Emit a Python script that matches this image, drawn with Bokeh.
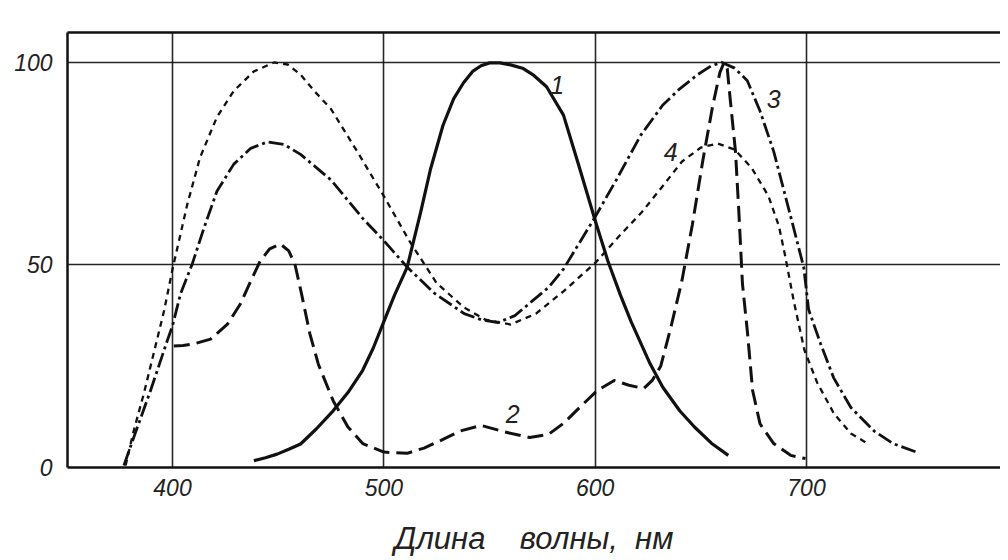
from bokeh.plotting import figure
from bokeh.models import Range1d, FixedTicker, LinearAxis, ColumnDataSource
from bokeh.core.properties import value
from bokeh.embed import file_html
from bokeh.resources import INLINE

# ---- data (wavelength in nm, relative value in %) ----
c1_x = [438.5, 444, 449.5, 455, 460.6, 468, 476, 483, 490, 495, 500, 505, 511, 517.4,
        522, 528, 533, 537.7, 542, 546, 550, 555, 560, 566, 571, 577, 585, 592, 600,
        606, 612, 617, 626, 632, 640, 647, 655, 663]
c1_y = [1.7, 2.4, 3.3, 4.5, 5.8, 9.5, 14, 18.5, 24, 29.5, 36, 42.5, 49.4, 63,
        73.5, 84.5, 91, 95, 97.8, 99.2, 99.9, 99.9, 99.4, 98.5, 96.8, 94, 87, 75, 61,
        51, 42.5, 36, 25.6, 19.8, 14, 10, 6, 3]

c2_x = [400.6, 405, 410, 418, 426, 432, 437, 441.5, 446, 451, 455, 458, 461, 465, 469,
        476, 483, 490, 500, 511, 519, 527, 536, 546, 557, 569, 578, 585, 593, 601, 609,
        616, 623, 627, 631, 636, 641, 646, 651, 655.5, 659, 661, 662.5, 664, 666.4, 668,
        669.7, 672, 674.5, 678, 684.5, 692.5, 699.5]
c2_y = [30, 30.1, 30.5, 31.7, 35.4, 40.3, 46, 51, 54, 55.2, 53.5, 50, 43, 33, 25.5,
        16.5, 10, 5.9, 3.8, 3.5, 4.8, 6.7, 9, 10.4, 8.8, 7.4, 8.2, 10.9, 15, 19, 21.5,
        20.3, 19.5, 21.5, 25, 35, 46, 60, 76, 89, 97.5, 100, 98.5, 90.4, 78, 63,
        45.3, 33.7, 19, 10.8, 5.9, 3, 2.2]

c3_x = [377, 381.7, 389.6, 397.5, 400, 403.8, 409.3, 414.8, 421, 429, 437, 445, 452.6,
        460.6, 475, 490, 500, 511, 524, 538, 546, 554, 562, 570, 578, 585, 592, 599,
        610, 621.5, 632, 640, 648.5, 655, 660, 666, 672, 678, 684.5, 692.5, 698.7, 701,
        706.7, 712.8, 721, 732, 741, 752.6]
c3_y = [0.5, 7.5, 19, 31.3, 35, 42.9, 50.2, 59, 68.2, 74.9, 78.8, 80.4, 79.8,
        77.3, 71, 61.5, 56, 49.5, 43, 38, 36.5, 35.8, 37.5, 41, 44.5, 49, 55, 61,
        71, 82, 89.5, 93.5, 97, 99.2, 100, 98.6, 95.5, 88, 78, 62, 49.4, 39,
        30.5, 22.2, 14.8, 9, 5.9, 3.7]

c4_x = [377.8, 381.6, 386.4, 391, 396, 400, 407, 413, 421, 429, 438.5, 448, 454.5,
        460.6, 467, 475, 488, 500, 512, 525, 538, 548, 560, 572, 585, 600, 612, 622,
        632, 641, 650, 658, 666, 674, 682, 687, 690, 694, 699, 705, 713, 721, 728]
c4_y = [0.5, 9, 18.2, 28, 38.7, 49, 65, 76.5, 86.5, 93, 97.8, 100, 99.5,
        97, 93, 88.5, 77.5, 67, 56, 45.5, 39.5, 36.5, 35.3, 38, 43.5, 50.5, 57.5, 63,
        69.5, 75.5, 79, 80, 78.5, 74, 67, 59.5, 52, 41, 29, 21, 13.3, 8.4, 6.2]

label_text = ["1", "2", "3", "4"]
label_x = [582, 561, 684.5, 635.7]
label_y = [94.5, 13.3, 91, 78]

x_ticks = [400, 500, 600, 700]
y_ticks = [0, 50, 100]
y_grid = [50, 100]
x_title = "Длина\u00a0\u00a0\u00a0\u00a0волны,\u00a0\u00a0нм"

INK = "#111111"
FONT = "Liberation Sans"

p = figure(width=1000, height=560,
           x_range=Range1d(350.3, 791.8), y_range=Range1d(0, 107.4),
           output_backend="svg", toolbar_location=None,
           min_border_left=67, min_border_right=0,
           min_border_top=32, min_border_bottom=93)
p.outline_line_color = None
p.background_fill_color = "white"
p.border_fill_color = "white"

# grid
p.xgrid.ticker = FixedTicker(ticks=x_ticks)
p.ygrid.ticker = FixedTicker(ticks=y_grid)
for g in (p.xgrid, p.ygrid):
    g.grid_line_color = INK
    g.grid_line_width = 1.6
    g.grid_line_alpha = 0.9

# axes
p.xaxis.ticker = FixedTicker(ticks=x_ticks)
p.yaxis.ticker = FixedTicker(ticks=y_ticks)
for ax in (p.xaxis, p.yaxis):
    ax.axis_line_color = INK
    ax.axis_line_width = 2.5
    ax.major_tick_line_color = None
    ax.minor_tick_line_color = None
    ax.major_label_text_font = FONT
    ax.major_label_text_font_style = "italic"
    ax.major_label_text_font_size = "23px"
    ax.major_label_text_color = "#222222"
p.yaxis.major_label_standoff = 9
p.xaxis.major_label_standoff = 5
p.xaxis.axis_label = x_title
p.xaxis.axis_label_text_font = FONT
p.xaxis.axis_label_text_font_style = "italic"
p.xaxis.axis_label_text_font_size = "31px"
p.xaxis.axis_label_text_color = "#222222"
p.xaxis.axis_label_standoff = 22

top_axis = LinearAxis(ticker=FixedTicker(ticks=[]), axis_line_color=INK,
                      axis_line_width=2.5, major_tick_line_color=None,
                      minor_tick_line_color=None)
p.add_layout(top_axis, "above")

# curves
p.line(c1_x, c1_y, line_color=INK, line_width=3.2, line_join="round")
p.line(c2_x, c2_y, line_color=INK, line_width=3.0, line_dash="16 7", line_join="round")
p.line(c3_x, c3_y, line_color=INK, line_width=2.8, line_dash="15 4 3 4", line_join="round")
p.line(c4_x, c4_y, line_color=INK, line_width=2.3, line_dash="6 5", line_join="round")

src = ColumnDataSource(dict(x=label_x, y=label_y, t=label_text))
p.text(x="x", y="y", text="t", source=src, text_font=value(FONT),
       text_font_style="italic", text_font_size="25px", text_color="#222222",
       text_align="center", text_baseline="middle")

open("out.html", "w").write(file_html(p, INLINE))
